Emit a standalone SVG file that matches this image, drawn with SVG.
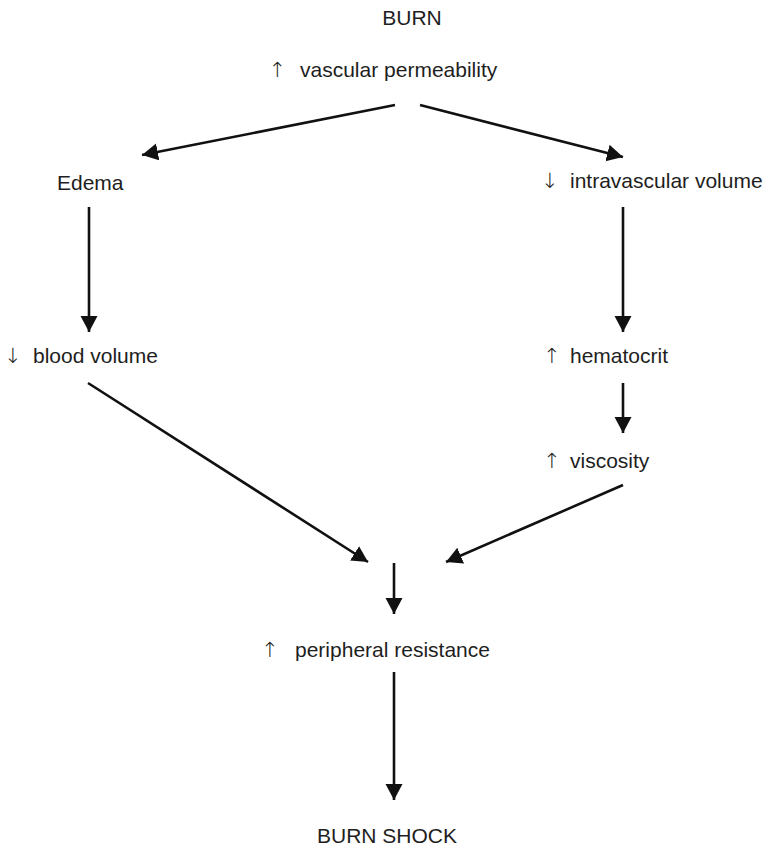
<svg xmlns="http://www.w3.org/2000/svg" width="767" height="847" viewBox="0 0 767 847">
<style>
  text { font-family: "Liberation Sans", Arial, sans-serif; font-size: 21px; fill: #1e1e1e; }
  text.sym { font-family: "DejaVu Sans", sans-serif; font-size: 21px; text-anchor: middle; font-weight: 300; fill: #222; }
  .c { text-anchor: middle; }
  .conn line { stroke: #111; stroke-width: 2.6; marker-end: url(#ah); }
</style>
<defs>
  <marker id="ah" markerUnits="userSpaceOnUse" markerWidth="17" markerHeight="18" refX="16" refY="8.5" orient="auto" viewBox="0 0 17 18">
    <path d="M0,0 L16,8.5 L0,17 z" fill="#111"/>
  </marker>
</defs>
<g id="burn"><text class="c" x="412" y="25">BURN</text></g>
<g id="permeability"><text class="sym" x="277.5" y="77">↑</text><text x="300" y="77">vascular permeability</text></g>
<g id="edema"><text x="57" y="190">Edema</text></g>
<g id="intravascular"><text class="sym" x="550" y="188">↓</text><text x="570" y="188">intravascular volume</text></g>
<g id="blood-volume"><text class="sym" x="13" y="363">↓</text><text x="33" y="363">blood volume</text></g>
<g id="hematocrit"><text class="sym" x="552" y="363">↑</text><text x="570" y="363">hematocrit</text></g>
<g id="viscosity"><text class="sym" x="552" y="468">↑</text><text x="570" y="468">viscosity</text></g>
<g id="resistance"><text class="sym" x="270" y="657">↑</text><text x="295" y="657">peripheral resistance</text></g>
<g id="burn-shock"><text x="317" y="843">BURN SHOCK</text></g>
<g id="connectors" class="conn">
  <line x1="395" y1="105" x2="142" y2="155"/>
  <line x1="420" y1="105" x2="623" y2="157"/>
  <line x1="89" y1="207" x2="89" y2="332"/>
  <line x1="623" y1="207" x2="623" y2="332"/>
  <line x1="623" y1="383" x2="623" y2="433"/>
  <line x1="88" y1="383" x2="368" y2="562"/>
  <line x1="623" y1="485" x2="446" y2="562"/>
  <line x1="394" y1="563" x2="394" y2="614"/>
  <line x1="394" y1="672" x2="394" y2="800"/>
</g>
</svg>
